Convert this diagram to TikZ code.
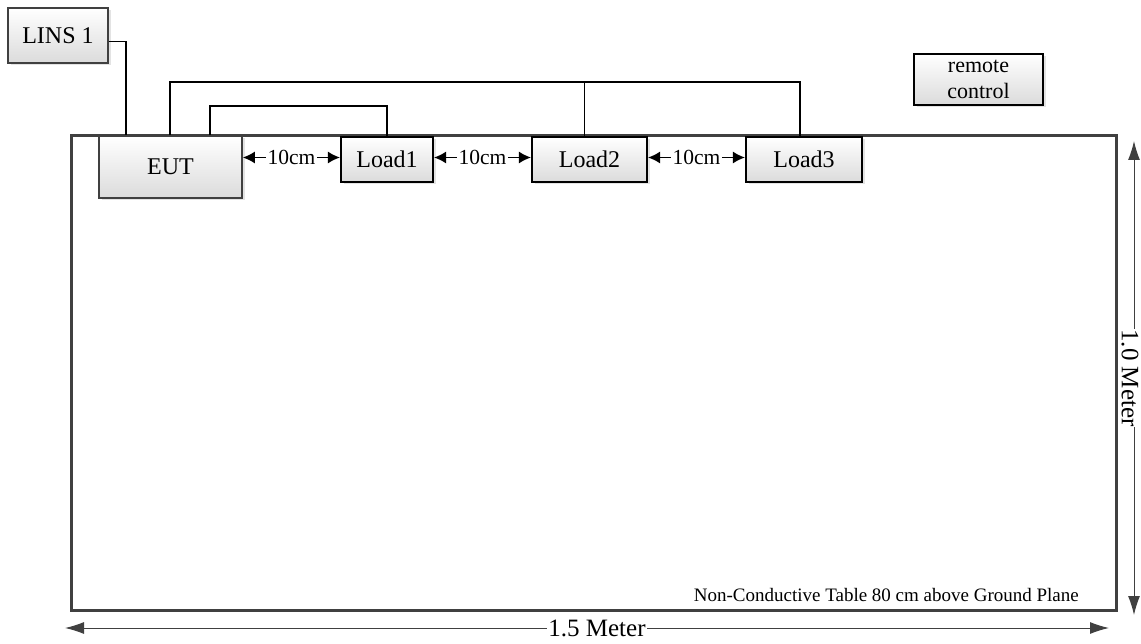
\documentclass[tikz,border=0pt]{standalone}
\usepackage{fontspec}
\setmainfont{Liberation Serif}
\usetikzlibrary{arrows.meta,shadows}
\begin{document}
\begin{tikzpicture}[x=1pt,y=-1pt,
  boxbase/.style={top color=white, bottom color=black!14, inner sep=0pt, align=center,
    font=\fontsize{24}{28}\selectfont,
    drop shadow={shadow xshift=2.5pt, shadow yshift=-2.5pt, fill=black!18, opacity=0.6}},
  graybox/.style={boxbase, draw=black!75, line width=1.8pt},
  blackbox/.style={boxbase, draw=black, line width=2.2pt},
  wire/.style={draw=black, line width=1.3pt},
  gap/.style={font=\fontsize{21.5}{25}\selectfont, inner sep=1.5pt},
  gaparrow/.style={draw=black, line width=1.2pt, -{Latex[length=12pt,width=12pt]}},
  dimline/.style={draw=black!75, line width=1pt, {Latex[length=19pt,width=12pt]}-{Latex[length=19pt,width=12pt]}},
  dimtext/.style={fill=white, inner sep=1pt, font=\fontsize{25}{29}\selectfont},
  tableframe/.style={draw=black!75, line width=3pt, inner sep=0pt}
]
\useasboundingbox (0,0) rectangle (1141,644);

% table
\node[tableframe, minimum width=1045pt, minimum height=474pt] (table) at (593.5,373) {};

% boxes
\node[graybox, minimum width=100pt, minimum height=55pt] (LINS) at (58,35.5) {LINS 1};
\node[graybox, minimum width=143pt, minimum height=62pt] (EUT) at (170.5,167) {EUT};
\node[blackbox, minimum width=92pt, minimum height=45pt] (L1) at (387,159.5) {Load1};
\node[blackbox, minimum width=115pt, minimum height=45pt] (L2) at (589.5,159.5) {Load2};
\node[blackbox, minimum width=116pt, minimum height=45pt] (L3) at (804,159.5) {Load3};
\node[blackbox, minimum width=129pt, minimum height=51pt, font=\fontsize{22}{26}\selectfont] (RC) at (978.5,79.5) {remote\\control};

% wires
\draw[wire] ([yshift=-6pt]LINS.east) -| ([xshift=28pt]EUT.north west);
\draw[wire] ([xshift=72pt]EUT.north west) -- ++(0,-53) -| ([xshift=-4pt]L3.north);
\draw[wire] ([xshift=-5pt]L2.north) -- ++(0,-54);
\draw[wire] ([xshift=112pt]EUT.north west) -- ++(0,-29) -| (L1.north);

% 10cm gaps
\node[gap] (g1) at (291.5,157.5) {10cm};
\node[gap] (g2) at (482.5,157.5) {10cm};
\node[gap] (g3) at (696.5,157.5) {10cm};
\draw[gaparrow] (g1.west) -- (g1.west -| EUT.east);
\draw[gaparrow] (g1.east) -- (g1.east -| L1.west);
\draw[gaparrow] (g2.west) -- (g2.west -| L1.east);
\draw[gaparrow] (g2.east) -- (g2.east -| L2.west);
\draw[gaparrow] (g3.west) -- (g3.west -| L2.east);
\draw[gaparrow] (g3.east) -- (g3.east -| L3.west);

% note
\node[anchor=base east, inner sep=0pt, font=\fontsize{19}{23}\selectfont] (note) at (1079,601)
  {Non-Conductive Table 80 cm above Ground Plane};

% dimensions
\coordinate (hl) at (65,628);
\coordinate (hr) at (1109,628);
\draw[dimline] (hl) -- (hr);
\node[dimtext] (hdim) at (597,628) {1.5 Meter};

\coordinate (vt) at (1134,141);
\coordinate (vb) at (1134,615);
\draw[dimline] (vt) -- (vb);
\node[dimtext, rotate=-90, inner sep=0.5pt] (vdim) at (1130,378) {1.0 Meter};
\end{tikzpicture}
\end{document}
